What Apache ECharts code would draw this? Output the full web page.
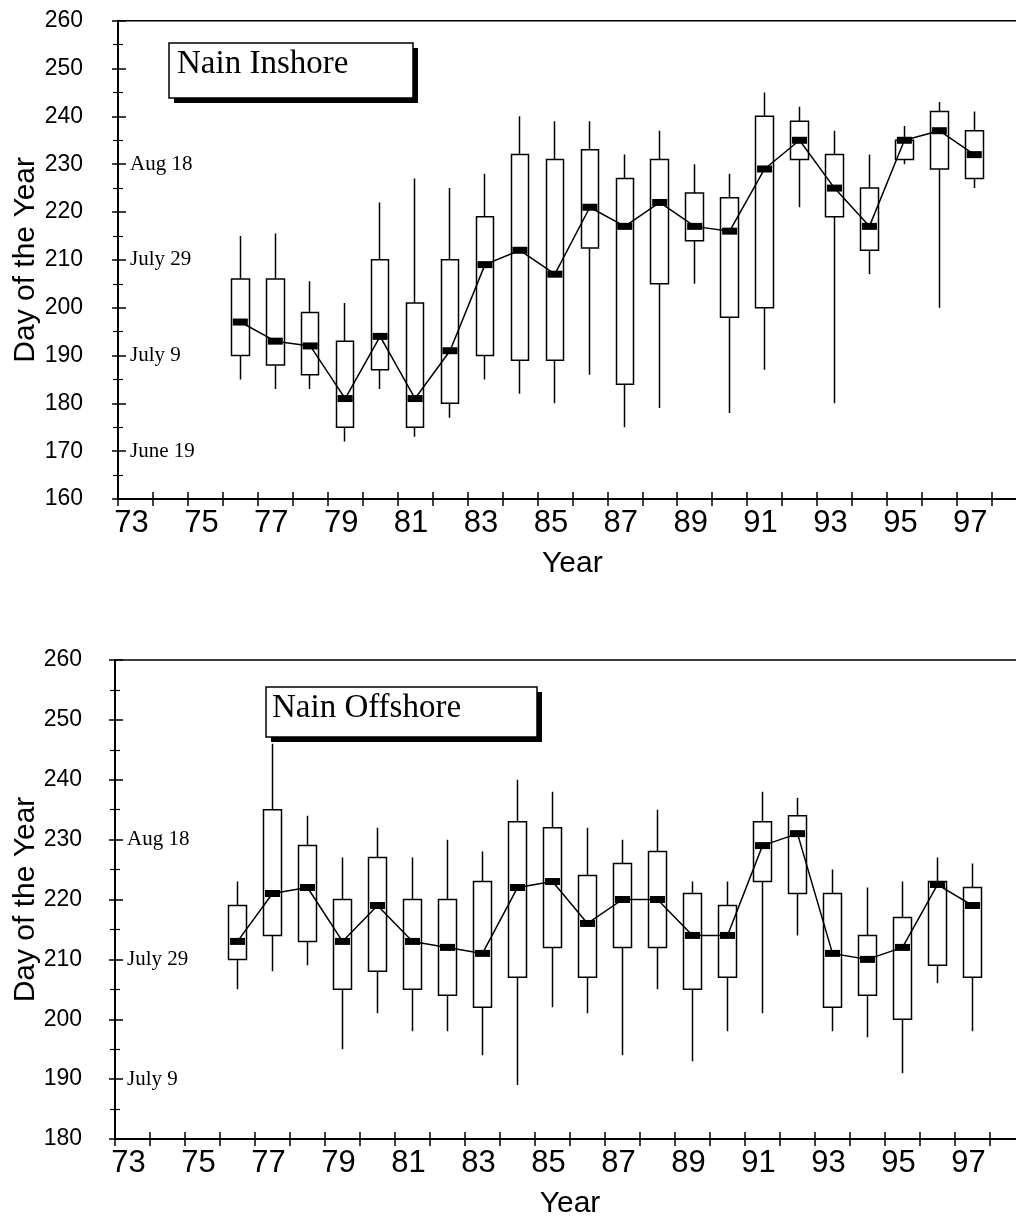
<!DOCTYPE html>
<html>
<head>
<meta charset="utf-8">
<script src="https://cdn.jsdelivr.net/npm/echarts@6/dist/echarts.min.js"></script>
<style>
  html, body { margin: 0; padding: 0; background: #fff; }
  #chart { width: 1016px; height: 1221px; }
</style>
</head>
<body>
<div id="chart"></div>
<script>
// ---- Data ----
const categories = ['73','74','75','76','77','78','79','80','81','82','83','84','85','86','87','88','89','90','91','92','93','94','95','96','97','98'];
const boxYears   = ['76','77','78','79','80','81','82','83','84','85','86','87','88','89','90','91','92','93','94','95','96','97'];

// Nain Inshore
const inshoreMin    = [185, 183, 183, 172, 183, 173, 177, 185, 182, 180, 186, 175, 179, 205, 178, 187, 221, 180, 207, 230, 200, 225];
const inshoreQ1     = [190, 188, 186, 175, 187, 175, 180, 190, 189, 189, 212.5, 184, 205, 214, 198, 200, 231, 219, 212, 231, 229, 227];
const inshoreMedian = [197, 193, 192, 181, 194, 181, 191, 209, 212, 207, 221, 217, 222, 217, 216, 229, 235, 225, 217, 235, 237, 232];
const inshoreQ3     = [206, 206, 199, 193, 210, 201, 210, 219, 232, 231, 233, 227, 231, 224, 223, 240, 239, 232, 225, 235, 241, 237];
const inshoreMax    = [215, 215.5, 205.5, 201, 222, 227, 225, 228, 240, 239, 239, 232, 237, 230, 228, 245, 242, 237, 232, 238, 243, 241];

// Nain Offshore
const offshoreMin    = [205, 208, 209, 195, 201, 198, 198, 194, 189, 202, 201, 194, 205, 193, 198, 201, 214, 198, 197, 191, 206, 198];
const offshoreQ1     = [210, 214, 213, 205, 208, 205, 204, 202, 207, 212, 207, 212, 212, 205, 207, 223, 221, 202, 204, 200, 209, 207];
const offshoreMedian = [213, 221, 222, 213, 219, 213, 212, 211, 222, 223, 216, 220, 220, 214, 214, 229, 231, 211, 210, 212, 222.5, 219];
const offshoreQ3     = [219, 235, 229, 220, 227, 220, 220, 223, 233, 232, 224, 226, 228, 221, 219, 233, 234, 221, 214, 217, 223, 222];
const offshoreMax    = [223, 246, 234, 227, 232, 227, 230, 228, 240, 238, 232, 230, 235, 223, 223, 238, 237, 225, 222, 223, 227, 226];

// Axis tick labels
const topDayTicks    = [160, 170, 180, 190, 200, 210, 220, 230, 240, 250, 260];
const bottomDayTicks = [180, 190, 200, 210, 220, 230, 240, 250, 260];
const dateTickValues = [170, 190, 210, 230];
const dateTickNames  = ['June 19', 'July 9', 'July 29', 'Aug 18'];

// ---- Build series data ----
function candleData(mn, q1, q3, mx) {
  return categories.map(c => {
    const i = boxYears.indexOf(c);
    return i < 0 ? '-' : [q1[i], q3[i], mn[i], mx[i]];
  });
}
function medianData(med) {
  return categories.map(c => {
    const i = boxYears.indexOf(c);
    return i < 0 ? '-' : med[i];
  });
}
function dateLabel(v) {
  const i = dateTickValues.indexOf(v);
  return i < 0 ? '' : dateTickNames[i];
}

const sans = 'Liberation Sans, Arial, sans-serif';
const serif = 'Liberation Serif, Times New Roman, serif';

function xAxesFor(gridIndex) {
  return [
    {
      type: 'category', gridIndex, data: categories, position: 'bottom',
      boundaryGap: true,
      name: 'Year', nameLocation: 'middle', nameGap: 50, nameMoveOverlap: false,
      nameTextStyle: { fontFamily: sans, fontSize: 30, color: '#000' },
      axisLine: { show: true, lineStyle: { color: '#000', width: 2 } },
      axisTick: { show: true, interval: 0, length: 7, lineStyle: { color: '#000', width: 1.5 } },
      axisLabel: { interval: 1, margin: 9, fontFamily: sans, fontSize: 31, color: '#000', padding: [0, 8, 0, 0] },
      splitLine: { show: false }
    },
    {
      type: 'category', gridIndex, data: categories, position: 'bottom',
      boundaryGap: true,
      axisLine: { show: false },
      axisTick: { show: true, inside: true, interval: 0, length: 7, lineStyle: { color: '#000', width: 1.5 } },
      axisLabel: { show: false },
      splitLine: { show: false }
    }
  ];
}

function yAxesFor(gridIndex, ticks, labelMargin, dateMargin, nameGap) {
  const mn = ticks[0], mx = ticks[ticks.length - 1];
  return [
    {
      type: 'value', gridIndex, position: 'left', min: mn, max: mx, interval: 10,
      name: 'Day of the Year', nameLocation: 'middle', nameGap, nameMoveOverlap: false,
      nameTextStyle: { fontFamily: sans, fontSize: 30, color: '#000' },
      axisLine: { show: true, lineStyle: { color: '#000', width: 2 } },
      axisTick: { show: true, length: 6, lineStyle: { color: '#000', width: 1.5 } },
      minorTick: { show: true, splitNumber: 2, length: 5, lineStyle: { color: '#000', width: 1.2 } },
      axisLabel: {
        margin: labelMargin, fontFamily: sans, fontSize: 23, color: '#000',
        formatter: v => (ticks.indexOf(v) >= 0 ? String(v) : '')
      },
      splitLine: { show: false }, minorSplitLine: { show: false }
    },
    {
      type: 'value', gridIndex, position: 'left', min: mn, max: mx, interval: 10,
      axisLine: { show: false },
      axisTick: { show: true, inside: true, length: 8, lineStyle: { color: '#000', width: 1.5 } },
      minorTick: { show: true, splitNumber: 2, length: 5, lineStyle: { color: '#000', width: 1.2 } },
      axisLabel: {
        inside: true, margin: dateMargin, fontFamily: serif, fontSize: 21, color: '#000',
        formatter: dateLabel
      },
      splitLine: { show: false }, minorSplitLine: { show: false }
    }
  ];
}

function seriesFor(idx, mn, q1, med, q3, mx) {
  const ax = idx * 2;
  return [
    {
      type: 'candlestick', xAxisIndex: ax, yAxisIndex: ax,
      barWidth: 18,
      data: candleData(mn, q1, q3, mx),
      itemStyle: { color: '#fff', color0: '#fff', borderColor: '#000', borderColor0: '#000', borderWidth: 1.5 },
      z: 2
    },
    {
      type: 'line', xAxisIndex: ax, yAxisIndex: ax,
      data: medianData(med),
      symbol: 'rect', symbolSize: [15, 7], showSymbol: true,
      itemStyle: { color: '#000' },
      lineStyle: { color: '#000', width: 1.5 },
      z: 3
    }
  ];
}

const chart = echarts.init(document.getElementById('chart'), null, { renderer: 'canvas' });

const option = {
  animation: false,
  backgroundColor: '#fff',
  grid: [
    { left: 118, top: 20.7, width: 908.7, height: 478.3, outerBoundsMode: 'none', containLabel: false,
      show: true, borderColor: '#000', borderWidth: 1.5, backgroundColor: 'transparent' },
    { left: 115, top: 660, width: 910, height: 479, outerBoundsMode: 'none', containLabel: false,
      show: true, borderColor: '#000', borderWidth: 1.5, backgroundColor: 'transparent' }
  ],
  xAxis: [...xAxesFor(0), ...xAxesFor(1)],
  yAxis: [...yAxesFor(0, topDayTicks, 35, 12, 77), ...yAxesFor(1, bottomDayTicks, 33, 12, 74)],
  series: [
    ...seriesFor(0, inshoreMin, inshoreQ1, inshoreMedian, inshoreQ3, inshoreMax),
    ...seriesFor(1, offshoreMin, offshoreQ1, offshoreMedian, offshoreQ3, offshoreMax)
  ],
  graphic: [
    { type: 'rect', shape: { x: 174, y: 48, width: 244, height: 55 }, style: { fill: '#000' }, z: 10 },
    { type: 'rect', shape: { x: 169, y: 43, width: 244, height: 55 }, style: { fill: '#fff', stroke: '#000', lineWidth: 1.5 }, z: 11 },
    { type: 'text', x: 177, y: 64, style: { text: 'Nain Inshore', fontFamily: serif, fontSize: 33, fill: '#000', verticalAlign: 'middle', align: 'left' }, z: 12 },

    { type: 'rect', shape: { x: 271, y: 692, width: 271, height: 50 }, style: { fill: '#000' }, z: 10 },
    { type: 'rect', shape: { x: 266, y: 687, width: 271, height: 50 }, style: { fill: '#fff', stroke: '#000', lineWidth: 1.5 }, z: 11 },
    { type: 'text', x: 272, y: 708, style: { text: 'Nain Offshore', fontFamily: serif, fontSize: 33, fill: '#000', verticalAlign: 'middle', align: 'left' }, z: 12 }
  ]
};

chart.setOption(option);
</script>
</body>
</html>
